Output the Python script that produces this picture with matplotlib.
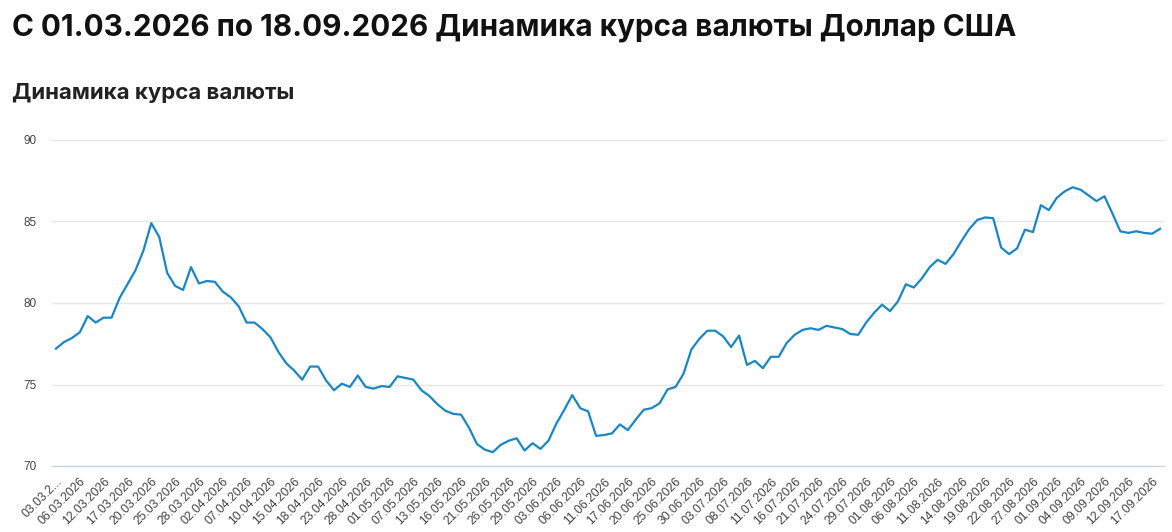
import matplotlib
matplotlib.use("Agg")
import matplotlib.pyplot as plt

# Данные курса (каждая точка - торговый день)
kurs = [
    77.2, 77.6, 77.85, 78.2, 79.2, 78.8, 79.1, 79.1, 80.3, 81.15,
    82.0, 83.2, 84.9, 84.05, 81.85, 81.05, 80.8, 82.2, 81.2, 81.35,
    81.3, 80.7, 80.35, 79.8, 78.8, 78.8, 78.4, 77.9, 77.0, 76.3,
    75.85, 75.3, 76.1, 76.1, 75.25, 74.65, 75.05, 74.85, 75.55, 74.85,
    74.75, 74.9, 74.85, 75.5, 75.4, 75.3, 74.65, 74.3, 73.8, 73.4,
    73.2, 73.15, 72.35, 71.35, 71.0, 70.85, 71.3, 71.55, 71.7, 70.95,
    71.4, 71.05, 71.55, 72.6, 73.45, 74.35, 73.55, 73.35, 71.85, 71.9,
    72.0, 72.55, 72.2, 72.85, 73.45, 73.55, 73.85, 74.7, 74.85, 75.65,
    77.15, 77.8, 78.3, 78.3, 77.95, 77.3, 78.0, 76.2, 76.45, 76.0,
    76.7, 76.7, 77.55, 78.05, 78.35, 78.45, 78.35, 78.6, 78.5, 78.4,
    78.1, 78.05, 78.8, 79.4, 79.9, 79.5, 80.1, 81.15, 80.95, 81.5,
    82.2, 82.65, 82.4, 83.0, 83.8, 84.55, 85.1, 85.25, 85.2, 83.4,
    83.0, 83.35, 84.5, 84.35, 86.0, 85.7, 86.45, 86.85, 87.1, 86.95,
    86.6, 86.25, 86.55, 85.5, 84.4, 84.3, 84.4, 84.3, 84.25, 84.55,
]

# Подписи оси X (каждая третья точка)
datas = [
    "03.03.2...", "06.03.2026", "12.03.2026", "17.03.2026", "20.03.2026",
    "25.03.2026", "28.03.2026", "02.04.2026", "07.04.2026", "10.04.2026",
    "15.04.2026", "18.04.2026", "23.04.2026", "28.04.2026", "01.05.2026",
    "07.05.2026", "13.05.2026", "16.05.2026", "21.05.2026", "26.05.2026",
    "29.05.2026", "03.06.2026", "06.06.2026", "11.06.2026", "17.06.2026",
    "20.06.2026", "25.06.2026", "30.06.2026", "03.07.2026", "08.07.2026",
    "11.07.2026", "16.07.2026", "21.07.2026", "24.07.2026", "29.07.2026",
    "01.08.2026", "06.08.2026", "11.08.2026", "14.08.2026", "19.08.2026",
    "22.08.2026", "27.08.2026", "01.09.2026", "04.09.2026", "09.09.2026",
    "12.09.2026", "17.09.2026",
]
paso = 3

plt.rcParams["font.family"] = ["Liberation Sans", "DejaVu Sans"]

fig = plt.figure(figsize=(11.72, 5.32), dpi=100)
ax = fig.add_axes([52 / 1172, 1 - 466 / 532, (1164 - 52) / 1172, (466 - 140) / 532])

# Титулы
fig.text(12 / 1172, 1 - 28 / 532, "С 01.03.2026 по 18.09.2026 Динамика курса валюты Доллар США",
         fontsize=21.4, fontweight="bold", color="#111111", va="center", ha="left",
         family=["Inter", "DejaVu Sans"])
fig.text(12 / 1172, 1 - 93 / 532, "Динамика курса валюты",
         fontsize=16, fontweight="bold", color="#222222", va="center", ha="left",
         family=["Inter", "DejaVu Sans"])

x = list(range(len(kurs)))
ax.plot(x, kurs, color="#1a86c5", linewidth=1.6, solid_joinstyle="round")

ax.set_xlim(-0.5, len(kurs) - 0.5)
ax.set_ylim(70, 90)
ax.set_yticks([70, 75, 80, 85, 90])
ax.grid(axis="y", color="#e6e6e6", linewidth=1)
ax.set_axisbelow(True)

ax.set_xticks(x[::paso][:len(datas)])
ax.set_xticklabels(datas, rotation=45, ha="right", rotation_mode="anchor",
                   fontsize=8.7, color="#444444")
ax.tick_params(axis="x", length=0, pad=7)
ax.tick_params(axis="y", length=0, pad=11, labelsize=8.5, labelcolor="#444444")

for lado in ["top", "right", "left"]:
    ax.spines[lado].set_visible(False)
ax.spines["bottom"].set_color("#ccd6eb")
ax.spines["bottom"].set_linewidth(1)

fig.savefig("out.png", dpi=100)
